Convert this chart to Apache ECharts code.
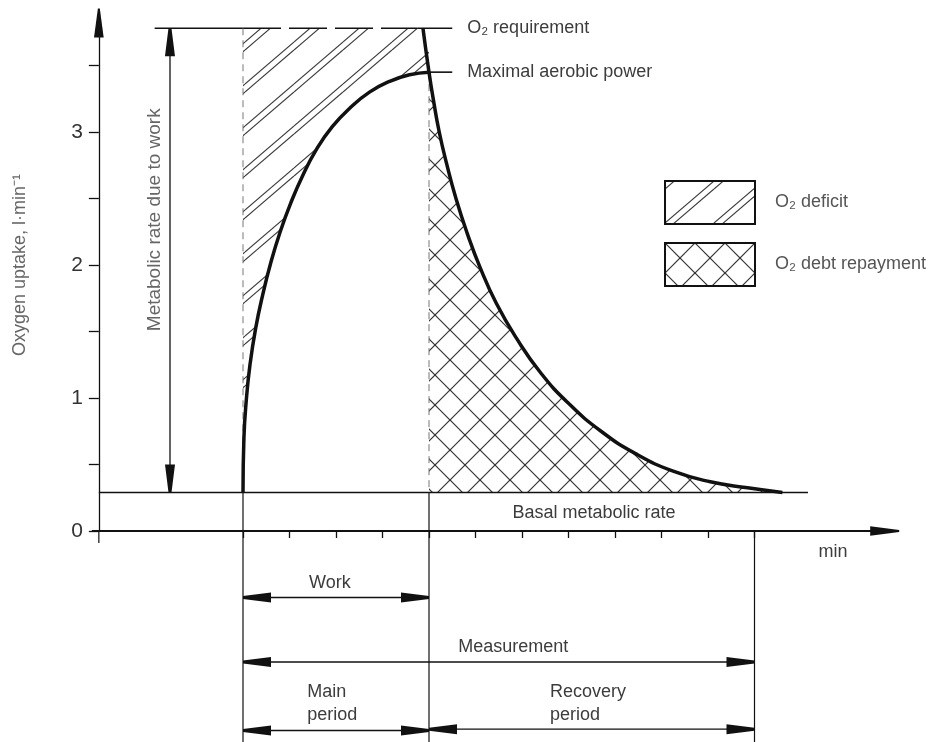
<!DOCTYPE html>
<html><head><meta charset="utf-8">
<script src="https://cdn.jsdelivr.net/npm/echarts@6/dist/echarts.min.js"></script>
<style>html,body{margin:0;padding:0;background:#fff}#c{width:935px;height:742px}</style>
</head><body><div id="c"></div>
<script>
// ---------- data (minutes / l·min-1) ----------
const yTickValues = [0, 0.5, 1, 1.5, 2, 2.5, 3, 3.5];
const yLabelValues = [0, 1, 2, 3];
const xTickValues = [0, 1, 2, 3, 4, 5, 6, 7, 8, 9, 10, 11];

const O2_REQ = 3.78, MAX_AEROBIC = 3.45, BASAL = 0.29;
const WORK_START = 0, WORK_END = 4, MEAS_END = 11;
const Y_AXIS_X = -3.1, BELOW = -1.6, METAB_X = -1.57;

const workTime   = [0, 0.02, 0.07, 0.15, 0.27, 0.42, 0.60, 0.80, 1.02, 1.28, 1.58, 1.92, 2.30, 2.72, 3.15, 3.58, 4.0];
const workUptake = [0.29, 0.70, 0.98, 1.25, 1.52, 1.77, 2.02, 2.25, 2.46, 2.67, 2.87, 3.04, 3.18, 3.30, 3.38, 3.43, 3.45];

const recoveryTime   = [3.87, 4.00, 4.10, 4.22, 4.38, 4.58, 4.82, 5.10, 5.45, 5.88, 6.40, 7.00, 7.70, 8.45, 9.25, 10.05, 10.85, 11.6];
const recoveryUptake = [3.78, 3.45, 3.23, 3.00, 2.76, 2.50, 2.24, 1.98, 1.71, 1.45, 1.19, 0.96, 0.75, 0.58, 0.45, 0.37, 0.325, 0.29];

// guide lines: [style, x1, y1, x2, y2]
const guides = [
  ['solid', METAB_X - 0.33, O2_REQ, WORK_START, O2_REQ],
  ['dash',  WORK_START, O2_REQ, 3.75, O2_REQ],
  ['solid', 3.75, O2_REQ, 4.5, O2_REQ],
  ['solid', 3.95, MAX_AEROBIC, 4.5, MAX_AEROBIC],
  ['solid', Y_AXIS_X, BASAL, 12.15, BASAL],
  ['vdash', WORK_START, O2_REQ, WORK_START, BASAL],
  ['vdash', WORK_END, MAX_AEROBIC, WORK_END, BASAL],
  ['thin',  WORK_START, BASAL, WORK_START, BELOW],
  ['thin',  WORK_END, BASAL, WORK_END, BELOW],
  ['thin',  MEAS_END, 0, MEAS_END, BELOW],
  ['thin',  Y_AXIS_X, 0, Y_AXIS_X, -0.09],
  ['axis',  -3.25, 0, Y_AXIS_X, 0]
];
// double-headed dimension arrows: [x1, y1, x2, y2]
const dimArrows = [
  [METAB_X, BASAL, METAB_X, O2_REQ],
  [WORK_START, -0.50, WORK_END, -0.50],
  [WORK_START, -0.985, MEAS_END, -0.985],
  [WORK_START, -1.50, WORK_END, -1.50],
  [WORK_END, -1.49, MEAS_END, -1.49]
];
// annotation texts: [x, y, text, align, rotated]
const notes = [
  [4.82, O2_REQ, 'O₂ requirement', 'left', 0],
  [4.82, MAX_AEROBIC, 'Maximal aerobic power', 'left', 0],
  [7.55, 0.135, 'Basal metabolic rate', 'center', 0],
  [12.69, -0.16, 'min', 'center', 0],
  [1.87, -0.39, 'Work', 'center', 0],
  [5.81, -0.87, 'Measurement', 'center', 0],
  [1.38, -1.30, 'Main\nperiod', 'left', 0],
  [6.60, -1.30, 'Recovery\nperiod', 'left', 0],
  [-1.89, 2.34, 'Metabolic rate due to work', 'center', 1]
];

// ---------- patterns ----------
function hatchPattern() {
  const W = 49, H = 42, c = document.createElement('canvas');
  c.width = W; c.height = H;
  const g = c.getContext('2d');
  g.strokeStyle = '#3a3a3a'; g.lineWidth = 1.1;
  for (const off of [0, 8]) for (const k of [-1, 0, 1]) {
    const d = off + k * H;
    g.beginPath(); g.moveTo(0, H + d); g.lineTo(W, d); g.stroke();
  }
  return c;
}
function crossPattern() {
  const S = 30, c = document.createElement('canvas');
  c.width = S; c.height = S;
  const g = c.getContext('2d');
  g.strokeStyle = '#333'; g.lineWidth = 1.2;
  for (const k of [-1, 0, 1]) {
    g.beginPath(); g.moveTo(k * S, 0); g.lineTo(k * S + S, S); g.stroke();
    g.beginPath(); g.moveTo(k * S, S); g.lineTo(k * S + S, 0); g.stroke();
  }
  return c;
}
const hatch = { image: hatchPattern(), repeat: 'repeat' };
const cross = { image: crossPattern(), repeat: 'repeat' };

const INK = '#111', TXT = '#3c3c3c', FONT = 'Liberation Sans';
const arrowPath = 'path://M4,0L6,0L10,30L0,30Z';
const guideStyles = {
  solid: { color: INK, width: 1.6, dash: null },
  thin:  { color: INK, width: 1.2, dash: null },
  axis:  { color: INK, width: 2, dash: null },
  dash:  { color: INK, width: 1.4, dash: [38, 8] },
  vdash: { color: '#777', width: 1, dash: [7, 5] }
};
const SMOOTH = 0.5;

const zip = (a, b) => a.map((v, i) => [v, b[i]]);

const chart = echarts.init(document.getElementById('c'));
chart.setOption({
  animation: false,
  backgroundColor: '#fff',
  grid: { left: 98.85, right: 50.3, top: 22.94, bottom: 211 },
  legend: {
    orient: 'vertical', left: 659, top: 175, itemWidth: 90, itemHeight: 43, itemGap: 17,
    selectedMode: false,
    data: [
      { name: 'O₂ deficit', icon: 'rect', itemStyle: { color: hatch, borderColor: INK, borderWidth: 2 } },
      { name: 'O₂ debt repayment', icon: 'rect', itemStyle: { color: cross, borderColor: INK, borderWidth: 2 } }
    ],
    textStyle: { fontSize: 18, color: '#555', fontFamily: FONT, padding: [16, 0, 0, 15] }
  },
  xAxis: {
    type: 'value', min: Y_AXIS_X, max: 13.8,
    axisLine: { show: true, onZero: false, lineStyle: { color: INK, width: 2 },
      symbol: ['none', arrowPath], symbolSize: [12, 29] },
    axisTick: { show: true, customValues: xTickValues, length: 7, lineStyle: { color: INK, width: 1.3 } },
    axisLabel: { show: false }, splitLine: { show: false }
  },
  yAxis: {
    type: 'value', min: 0, max: 3.82,
    name: 'Oxygen uptake, l·min⁻¹', nameLocation: 'middle', nameGap: 70, nameRotate: 90,
    nameTextStyle: { fontSize: 18, color: '#666', fontFamily: FONT, padding: [0, 0, 0, 24] },
    axisLine: { show: true, onZero: false, lineStyle: { color: INK, width: 1.3 },
      symbol: ['none', arrowPath], symbolSize: [12, 29] },
    axisTick: { show: true, customValues: yTickValues, length: 10, lineStyle: { color: INK, width: 1.3 } },
    axisLabel: { customValues: yLabelValues, fontSize: 21, color: '#333', margin: 16, fontFamily: FONT },
    splitLine: { show: false }
  },
  series: [
    { name: 'O₂ deficit', type: 'line', data: zip(workTime, workUptake), smooth: SMOOTH, symbol: 'none',
      lineStyle: { width: 0 }, areaStyle: { origin: O2_REQ, color: hatch, opacity: 1 }, z: 1 },
    { name: 'O₂ debt repayment', type: 'line', data: zip(recoveryTime, recoveryUptake).slice(1), smooth: SMOOTH, symbol: 'none',
      lineStyle: { width: 0 }, areaStyle: { origin: BASAL, color: cross, opacity: 1 }, z: 1 },
    { type: 'custom', clip: false, z: 3, silent: true,
      data: guides.map(g => [g[1], g[2], g[3], g[4]]),
      encode: { x: [0, 2], y: [1, 3] },
      renderItem: (p, api) => {
        const g = guides[p.dataIndex], st = guideStyles[g[0]];
        const a = api.coord([g[1], g[2]]), b = api.coord([g[3], g[4]]);
        return { type: 'line', shape: { x1: a[0], y1: a[1], x2: b[0], y2: b[1] },
          style: { stroke: st.color, lineWidth: st.width, lineDash: st.dash } };
      } },
    { name: 'work', type: 'line', data: zip(workTime, workUptake), smooth: SMOOTH, symbol: 'none',
      lineStyle: { width: 3.5, color: INK }, z: 4 },
    { name: 'recovery', type: 'line', data: zip(recoveryTime, recoveryUptake), smooth: SMOOTH, symbol: 'none',
      lineStyle: { width: 3.5, color: INK }, z: 4 },
    { type: 'custom', clip: false, z: 5, silent: true,
      data: dimArrows,
      encode: { x: [0, 2], y: [1, 3] },
      renderItem: (p, api) => {
        const d = dimArrows[p.dataIndex];
        const a = api.coord([d[0], d[1]]), b = api.coord([d[2], d[3]]);
        const len = Math.hypot(b[0] - a[0], b[1] - a[1]);
        const ux = (b[0] - a[0]) / len, uy = (b[1] - a[1]) / len, nx = -uy, ny = ux;
        const L = 28, w1 = 3, w2 = 10;
        const head = (P, sx, sy) => [
          [P[0] + nx * w1 / 2, P[1] + ny * w1 / 2],
          [P[0] - nx * w1 / 2, P[1] - ny * w1 / 2],
          [P[0] - sx * L - nx * w2 / 2, P[1] - sy * L - ny * w2 / 2],
          [P[0] - sx * L + nx * w2 / 2, P[1] - sy * L + ny * w2 / 2]
        ];
        return { type: 'group', children: [
          { type: 'line', shape: { x1: a[0], y1: a[1], x2: b[0], y2: b[1] }, style: { stroke: INK, lineWidth: 1.3 } },
          { type: 'polygon', shape: { points: head(b, ux, uy) }, style: { fill: INK } },
          { type: 'polygon', shape: { points: head(a, -ux, -uy) }, style: { fill: INK } }
        ] };
      } },
    { type: 'custom', clip: false, z: 6, silent: true,
      data: notes.map(n => [n[0], n[1]]),
      encode: { x: 0, y: 1 },
      renderItem: (p, api) => {
        const n = notes[p.dataIndex];
        const c = api.coord([n[0], n[1]]);
        return { type: 'text', x: c[0], y: c[1], rotation: n[4] ? Math.PI / 2 : 0,
          style: { text: n[2], fill: n[4] ? '#666' : TXT, fontSize: n[4] ? 19 : 18, fontFamily: FONT,
            align: n[3], verticalAlign: 'middle', lineHeight: 23 } };
      } }
  ]
});
</script></body></html>
